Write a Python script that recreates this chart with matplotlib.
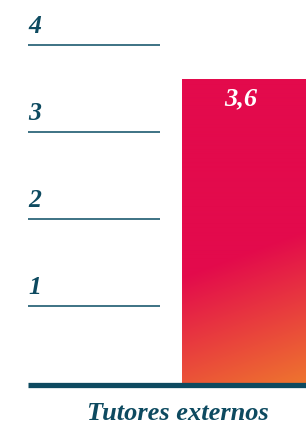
import numpy as np
import matplotlib
matplotlib.use("Agg")
import matplotlib.pyplot as plt
from matplotlib.colors import to_rgb

categories = ["Tutores externos"]
values = [3.6]
value_labels = ["3,6"]
grid_values = [1, 2, 3, 4]
grid_labels = ["1", "2", "3", "4"]

W, H, DPI = 306, 425, 100
fig = plt.figure(figsize=(W / DPI, H / DPI), dpi=DPI)
base_px = 384.5
ax = fig.add_axes([0, (H - base_px) / H, 1, base_px / H])
ax.set_axis_off()

y0, y1 = 0.1, 4.52
ax.set_ylim(y0, y1)
unit = 124.0
ax.set_xlim(-0.5 - 182 / unit, 0.5)

teal = "#1d5a70"
dark = "#0d4a60"
font = "Liberation Serif"

# gridlines and labels
gx0 = -0.5 - 154 / unit
gx1 = -0.5 - 22 / unit
for v, lab in zip(grid_values, grid_labels):
    ax.plot([gx0, gx1], [v, v], color=teal, lw=1.2, solid_capstyle="butt")
    ax.annotate(lab, (gx0, v), xytext=(0, 5), textcoords="offset points",
                ha="left", va="bottom", fontsize=18.5, fontweight="bold",
                fontstyle="italic", family=font, color=dark)

# bar
bars = ax.bar(range(len(values)), values, width=1.0, bottom=0, color="none",
              edgecolor="none")
c1 = np.array(to_rgb("#e30a4c"))
c2 = np.array(to_rgb("#ef7d2c"))
for b in bars:
    x0b, yb0 = b.get_x(), b.get_y()
    wb, hb = b.get_width(), b.get_height()
    bw_px = int(round(wb * unit))
    top_px = base_px - (hb - y0) / (y1 - y0) * base_px
    bh_px = int(round(base_px - top_px)) + 40
    xs = np.arange(bw_px)[None, :]
    ys = np.arange(bh_px)[:, None]
    n = np.array([0.341, 0.940])
    t = (xs * n[0] + (ys - (272 - top_px)) * n[1]) / 150.0
    t = np.clip(t, 0, 1)
    img = c1[None, None, :] * (1 - t[..., None]) + c2[None, None, :] * t[..., None]
    ax.imshow(img, extent=[x0b, x0b + wb, yb0 - 40 / base_px * (y1 - y0), yb0 + hb],
              aspect="auto", interpolation="bilinear", zorder=2,
              clip_path=b, clip_on=True)

for i, (v, lab) in enumerate(zip(values, value_labels)):
    ax.annotate(lab, (i, v), xytext=(-2, -5), textcoords="offset points",
                ha="center", va="top", fontsize=19, fontweight="bold",
                fontstyle="italic", family=font, color="white", zorder=3)

# baseline
ax.axhline(y0, xmin=28 / W, xmax=1, color=dark, lw=3.8, zorder=4,
           solid_capstyle="butt", clip_on=False)

# category label
for i, c in enumerate(categories):
    fig.text(178 / W, 1 - 413 / H, c, ha="center", va="center", fontsize=19,
             fontweight="bold", fontstyle="italic", family=font, color=dark)

fig.savefig("out.png", dpi=DPI)
